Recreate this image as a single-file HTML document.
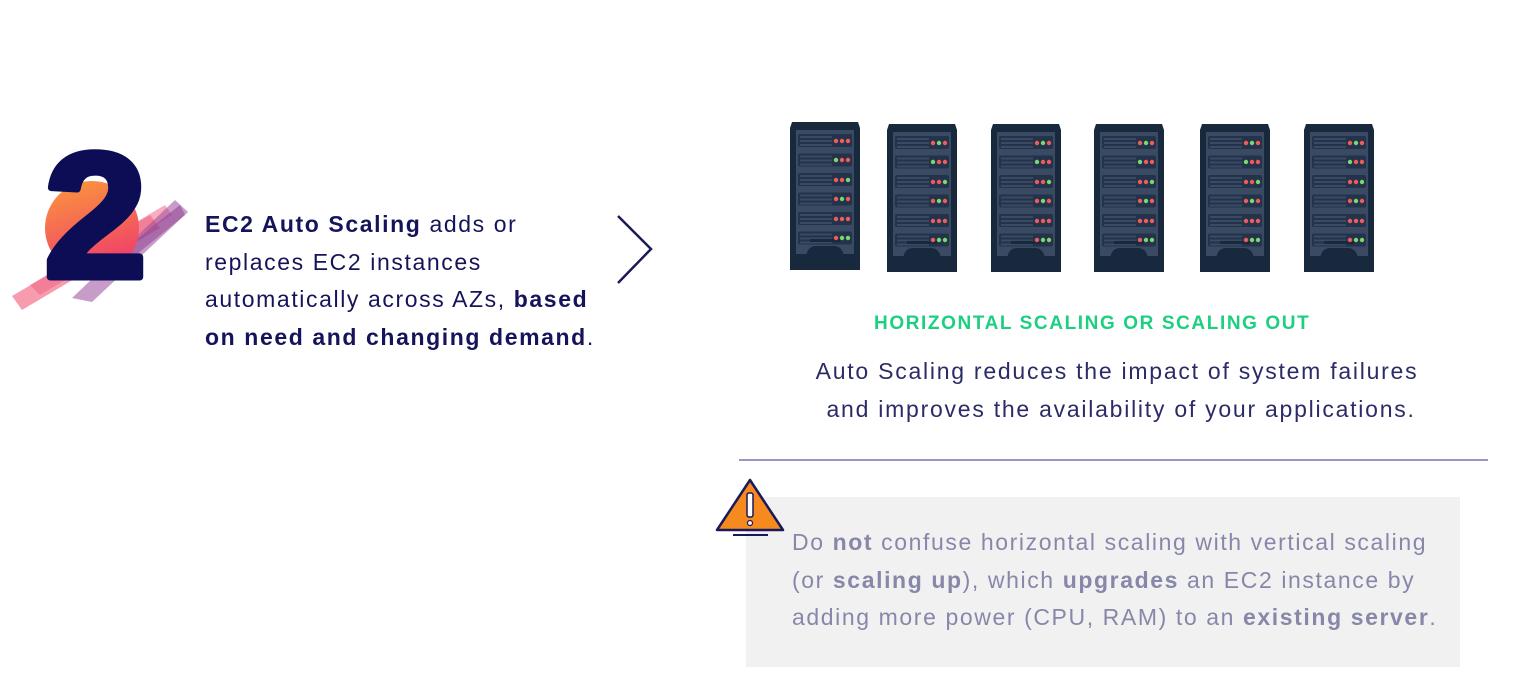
<!DOCTYPE html>
<html><head><style>
body{margin:0;width:1538px;height:697px;background:#fff;position:relative;overflow:hidden;font-family:"Liberation Sans",sans-serif}
.t{position:absolute;font-size:23px;line-height:37.5px;color:#15145a;white-space:nowrap;letter-spacing:1.6px}
b{font-weight:bold}
</style></head><body>
<svg width="1538" height="697" style="position:absolute;left:0;top:0">
<defs>
<linearGradient id="g1" x1="0" y1="0" x2="0.3" y2="1"><stop offset="0" stop-color="#fb9a3a"/><stop offset="1" stop-color="#f0406a"/></linearGradient>
<g id="srv">
<path d="M2 0 H68 L70 6 V148 H0 V6 Z" fill="#18283d"/>
<path d="M6 8 H64 V134 H54 Q52 124 44 124 H26 Q18 124 16 134 H6 Z" fill="#3a4a63"/>
<rect x="6" y="132" width="58" height="16" fill="#18283d"/>
<g id="u"><rect x="8" y="12" width="54" height="13" rx="2" fill="#22334b"/><rect x="10" y="14" width="32" height="2" fill="#3a4a63"/><rect x="10" y="18" width="32" height="2" fill="#3a4a63"/><rect x="10" y="22" width="32" height="2" fill="#3a4a63"/></g>
<use href="#u" y="19.5"/><use href="#u" y="39"/><use href="#u" y="58.5"/><use href="#u" y="78"/><use href="#u" y="97.5"/>
<rect x="20" y="117" width="30" height="3" fill="#18283d"/>
</g>
</defs>
<g>
<polygon points="12,296 150,215 160,228 22,310" fill="#f05a78" opacity="0.6"/>
<polygon points="30,285 165,205 172,215 40,295" fill="#f06080" opacity="0.5"/>
<polygon points="72,298 175,200 188,212 92,302" fill="#9a4a9a" opacity="0.55"/>
<polygon points="110,260 180,205 185,215 120,268" fill="#8a3a8a" opacity="0.5"/>
<circle cx="92" cy="228" r="47" fill="url(#g1)"/>
</g>
<text x="44" y="277" font-family="Liberation Sans" font-weight="bold" font-size="178" fill="#0d0d55" stroke="#0d0d55" stroke-width="7" stroke-linejoin="round" textLength="103" lengthAdjust="spacingAndGlyphs">2</text>
<polyline points="618,216 651,249 618,283" fill="none" stroke="#1a1a5a" stroke-width="2.5"/>
<g transform="translate(790,122)"><use href="#srv"/></g>
<g transform="translate(887,124)"><use href="#srv"/></g>
<g transform="translate(991,124)"><use href="#srv"/></g>
<g transform="translate(1094,124)"><use href="#srv"/></g>
<g transform="translate(1200,124)"><use href="#srv"/></g>
<g transform="translate(1304,124)"><use href="#srv"/></g>
<g fill="#f35a5a">
<circle cx="842" cy="141" r="2.2"/><circle cx="848" cy="141" r="2.2"/><circle cx="836" cy="141" r="2.2"/>
<circle cx="836" cy="160" r="2.2" fill="#7bd86a"/><circle cx="842" cy="160" r="2.2"/><circle cx="848" cy="160" r="2.2"/>
<circle cx="836" cy="180" r="2.2"/><circle cx="842" cy="180" r="2.2"/><circle cx="848" cy="180" r="2.2" fill="#7bd86a"/>
<circle cx="836" cy="199" r="2.2"/><circle cx="842" cy="199" r="2.2" fill="#7bd86a"/><circle cx="848" cy="199" r="2.2"/>
<circle cx="836" cy="219" r="2.2"/><circle cx="842" cy="219" r="2.2"/><circle cx="848" cy="219" r="2.2"/>
<circle cx="836" cy="238" r="2.2"/><circle cx="842" cy="238" r="2.2" fill="#7bd86a"/><circle cx="848" cy="238" r="2.2" fill="#7bd86a"/>
</g>
<g id="leds2" fill="#f35a5a">
<circle cx="933" cy="143" r="2.2"/><circle cx="939" cy="143" r="2.2" fill="#7bd86a"/><circle cx="945" cy="143" r="2.2"/>
<circle cx="933" cy="162" r="2.2" fill="#7bd86a"/><circle cx="939" cy="162" r="2.2"/><circle cx="945" cy="162" r="2.2"/>
<circle cx="933" cy="182" r="2.2"/><circle cx="939" cy="182" r="2.2"/><circle cx="945" cy="182" r="2.2" fill="#7bd86a"/>
<circle cx="933" cy="201" r="2.2"/><circle cx="939" cy="201" r="2.2" fill="#7bd86a"/><circle cx="945" cy="201" r="2.2"/>
<circle cx="933" cy="221" r="2.2"/><circle cx="939" cy="221" r="2.2"/><circle cx="945" cy="221" r="2.2"/>
<circle cx="933" cy="240" r="2.2"/><circle cx="939" cy="240" r="2.2" fill="#7bd86a"/><circle cx="945" cy="240" r="2.2" fill="#7bd86a"/>
</g>
<use href="#leds2" x="104"/><use href="#leds2" x="207"/><use href="#leds2" x="313"/><use href="#leds2" x="417"/>
<line x1="739" y1="460" x2="1488" y2="460" stroke="#7a70b0" stroke-width="1.5"/>
<rect x="746" y="497" width="714" height="170" fill="#f1f1f1"/>
<polygon points="750,480 717,530 783,530" fill="#f68a1e" stroke="#1a1a5a" stroke-width="2.5" stroke-linejoin="round"/>
<rect x="747" y="493" width="6" height="24" rx="2" fill="#fff" stroke="#1a1a5a" stroke-width="1.5"/>
<circle cx="750" cy="523" r="2.5" fill="#fff" stroke="#1a1a5a" stroke-width="1.2"/>
<line x1="733" y1="535" x2="768" y2="535" stroke="#1a1a5a" stroke-width="2"/>
</svg>
<div class="t" style="left:205px;top:206px"><b>EC2 Auto Scaling</b> adds or<br>replaces EC2 instances<br>automatically across AZs, <b>based<br>on need and changing demand</b>.</div>
<div style="position:absolute;left:874px;top:313px;font-size:19px;font-weight:bold;color:#1dcf80;letter-spacing:1.6px;white-space:nowrap">HORIZONTAL SCALING OR SCALING OUT</div>
<div class="t" style="left:780px;width:674px;top:353px;text-align:center;color:#2b2b66;letter-spacing:1.75px">Auto Scaling reduces the impact of system failures<br>&nbsp;and improves the availability of your applications.</div>
<div class="t" style="left:792px;top:524px;color:#8787aa">Do <b>not</b> confuse horizontal scaling with vertical scaling<br>(or <b>scaling up</b>), which <b>upgrades</b> an EC2 instance by<br>adding more power (CPU, RAM) to an <b>existing server</b>.</div>
</body></html>
